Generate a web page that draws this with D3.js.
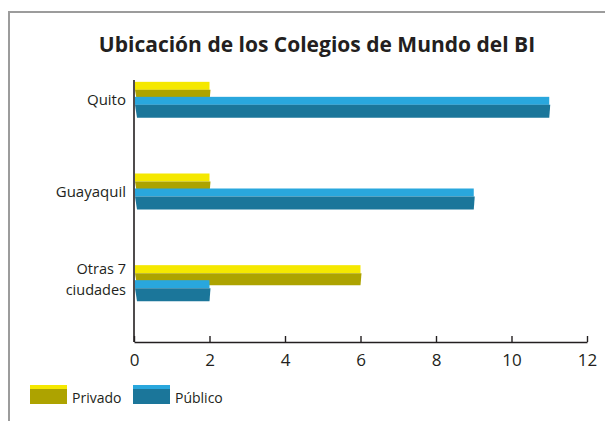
<!DOCTYPE html>
<html>
<head>
<meta charset="utf-8">
<script src="https://cdn.jsdelivr.net/npm/d3@7"></script>
<style>
  body { margin: 0; background: #fff; }
  svg { display: block; }
</style>
</head>
<body>
<script>
// data
var categories = ["Quito", "Guayaquil", "Otras 7 ciudades"];
var privado = [2, 2, 6];
var publico = [11, 9, 2];
var xTicks = [0, 2, 4, 6, 8, 10, 12];
var seriesNames = ["Privado", "Público"];

var width = 605,
    height = 421;

var svg = d3.select("body").append("svg")
    .attr("width", width)
    .attr("height", height)
    .style("font-family", "'Open Sans', sans-serif");

// grey frame (only top and left edges show)
svg.append("rect")
    .attr("x", 9)
    .attr("y", 12)
    .attr("width", width + 20)
    .attr("height", height + 20)
    .attr("fill", "none")
    .attr("stroke", "#9c9c9c")
    .attr("stroke-width", 2);

svg.append("text")
    .attr("x", 317)
    .attr("y", 52)
    .attr("text-anchor", "middle")
    .style("font-weight", "bold")
    .style("font-size", "21px")
    .attr("fill", "#231f20")
    .text("Ubicación de los Colegios de Mundo del BI");

var x = d3.scaleLinear()
    .domain([0, 12])
    .range([134, 587]);

var y = d3.scaleBand()
    .domain(categories)
    .range([54, 329]);

var axisY = 342;

// x axis with ticks pointing up
var xAxis = svg.append("g")
    .attr("transform", "translate(0," + axisY + ")")
    .call(d3.axisBottom(x).tickValues(xTicks).tickSizeInner(-6).tickSizeOuter(0).tickPadding(12));
xAxis.select(".domain").attr("stroke", "#231f20").attr("stroke-width", 1.6);
xAxis.selectAll(".tick line").attr("stroke", "#231f20").attr("stroke-width", 1.4);
xAxis.selectAll(".tick text")
    .style("font-size", "17px")
    .style("font-family", "'Open Sans', sans-serif")
    .attr("fill", "#231f20");

// y axis line
svg.append("line")
    .attr("x1", x(0)).attr("x2", x(0))
    .attr("y1", 80).attr("y2", axisY)
    .attr("stroke", "#231f20")
    .attr("stroke-width", 1.6);

var colors = {
    Privado: { top: "#f5e800", front: "#ada300" },
    "Público": { top: "#29a7dd", front: "#1b769a" }
};

function drawBar(g, val, y0, topH, frontH, c) {
    var x0 = x(0) + 1, x1 = x(val);
    g.append("rect")
        .attr("x", x0).attr("y", y0)
        .attr("width", x1 - x0).attr("height", topH)
        .attr("fill", c.top);
    g.append("path")
        .attr("d", "M" + x0 + "," + (y0 + topH) + "L" + (x1 + 1) + "," + (y0 + topH) +
              "L" + x1 + "," + (y0 + topH + frontH) + "L" + (x0 + 2) + "," + (y0 + topH + frontH) + "Z")
        .attr("fill", c.front);
}

var bars = svg.append("g");
categories.forEach(function(cat, i) {
    var c = y(cat) + y.bandwidth() / 2;
    drawBar(bars, privado[i], c - 18, 8, 12, colors.Privado);
    drawBar(bars, publico[i], c - 3, 8, 13, colors["Público"]);
});

// category labels
var labels = svg.append("g")
    .attr("text-anchor", "end")
    .style("font-size", "15px")
    .attr("fill", "#231f20");
labels.append("text").attr("x", 126).attr("y", y("Quito") + y.bandwidth() / 2 + 5).text("Quito");
labels.append("text").attr("x", 126).attr("y", y("Guayaquil") + y.bandwidth() / 2 + 5).text("Guayaquil");
var cOtras = y("Otras 7 ciudades") + y.bandwidth() / 2;
labels.append("text").attr("x", 126).attr("y", cOtras - 9).style("font-size", "14.5px").text("Otras 7");
labels.append("text").attr("x", 126).attr("y", cOtras + 12).style("font-size", "14.5px").text("ciudades");

// legend
var legend = svg.append("g");
[30, 133].forEach(function(lx, i) {
    var c = colors[seriesNames[i]];
    legend.append("rect").attr("x", lx).attr("y", 385).attr("width", 37).attr("height", 5).attr("fill", c.top);
    legend.append("rect").attr("x", lx).attr("y", 389).attr("width", 37).attr("height", 15).attr("fill", c.front);
    legend.append("text")
        .attr("x", lx + 42).attr("y", 403)
        .style("font-size", "14px")
        .attr("fill", "#231f20")
        .text(seriesNames[i]);
});
</script>
</body>
</html>
